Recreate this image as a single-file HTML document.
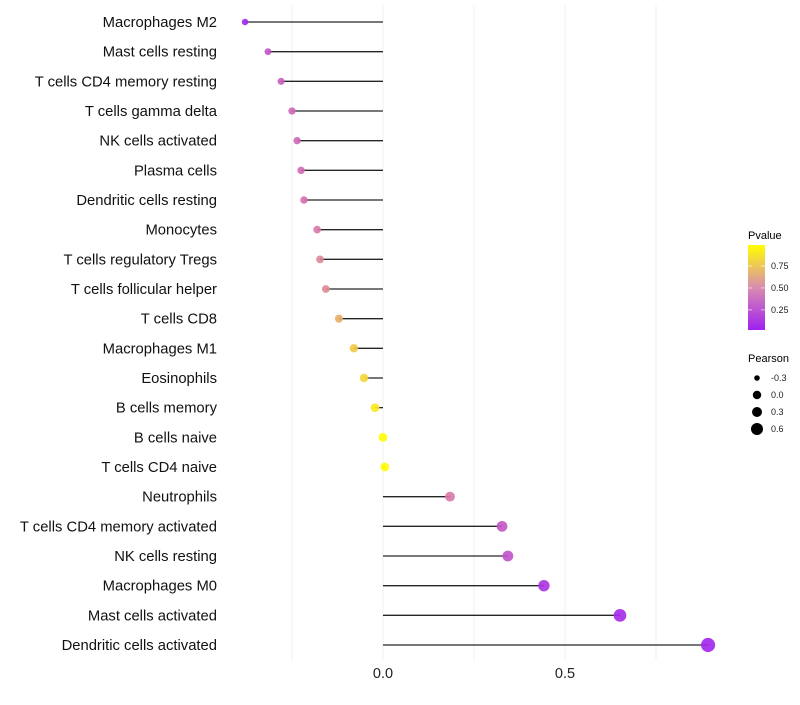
<!DOCTYPE html>
<html><head><meta charset="utf-8"><style>
body{margin:0;background:#fff;font-family:"Liberation Sans",sans-serif;}
</style></head><body>
<svg id="chart" width="800" height="700" xmlns="http://www.w3.org/2000/svg" font-family="Liberation Sans, sans-serif">
<defs><linearGradient id="pg" x1="0" y1="1" x2="0" y2="0">
<stop offset="0" stop-color="#A020F0"/><stop offset="0.5" stop-color="#D98CB0"/><stop offset="1" stop-color="#FFFF00"/></linearGradient></defs>
<g id="grid"></g>
<g id="marks"></g>
<g id="labels"></g>
<g id="xticks"></g>
<g>
<text x="748" y="239" font-size="11">Pvalue</text>
<rect x="748" y="245" width="17" height="85" fill="url(#pg)"/>
<g id="cbticks"></g>
</g>
<g id="sizeleg">
<text x="748" y="362" font-size="11">Pearson</text>
</g>
</svg>
<script>
const categories=["Macrophages M2","Mast cells resting","T cells CD4 memory resting","T cells gamma delta","NK cells activated","Plasma cells","Dendritic cells resting","Monocytes","T cells regulatory  Tregs ","T cells follicular helper","T cells CD8","Macrophages M1","Eosinophils","B cells memory","B cells naive","T cells CD4 naive","Neutrophils","T cells CD4 memory activated","NK cells resting","Macrophages M0","Mast cells activated","Dendritic cells activated"];
const pearson=[-0.379,-0.316,-0.280,-0.250,-0.236,-0.225,-0.217,-0.181,-0.173,-0.157,-0.121,-0.080,-0.052,-0.022,0.0,0.005,0.184,0.327,0.343,0.442,0.651,0.893];
const pvalue=[0.03,0.3,0.35,0.4,0.4,0.42,0.45,0.5,0.55,0.57,0.7,0.8,0.85,0.92,0.99,0.99,0.5,0.3,0.28,0.1,0.05,0.02];
const xTicks=[0.0,0.5];
const gridVals=[-0.25,0,0.25,0.5,0.75];
const cbTicks=[0.25,0.5,0.75];
const legVals=[-0.3,0.0,0.3,0.6];
const NS="http://www.w3.org/2000/svg";
const X=v=>383+v*364;
const Y=i=>22+i*(623/21);
const R=v=>Math.max(2,4.4+3*v);
const cbY=p=>330-(p-0.02)/(0.99-0.02)*85;
function col(p){const a=[160,32,240],m=[217,120,170],b=[255,255,0];let t,c1,c2;if(p<0.5){t=p/0.5;c1=a;c2=m}else{t=(p-0.5)/0.5;c1=m;c2=b}return `rgb(${c1.map((c,k)=>Math.round(c+(c2[k]-c)*t)).join(',')})`;}
function mk(tag,attrs,parent){const e=document.createElementNS(NS,tag);for(const k in attrs)e.setAttribute(k,attrs[k]);parent.appendChild(e);return e;}
const grid=document.getElementById('grid'),marks=document.getElementById('marks'),labels=document.getElementById('labels'),xt=document.getElementById('xticks');
gridVals.forEach(g=>{const l=mk('line',{x1:X(g),x2:X(g),y1:5,y2:660,stroke:'#f2f2f2','stroke-width':1},grid);

});
categories.forEach((c,i)=>{
const y=Y(i);
const ln=mk('line',{x1:X(0),x2:X(pearson[i]),y1:y,y2:y,stroke:'#000','stroke-opacity':0.85,'stroke-width':1.3},marks);


const pt=mk('circle',{cx:X(pearson[i]),cy:y,r:R(pearson[i]),fill:col(pvalue[i]),'fill-opacity':0.9},marks);


const t=mk('text',{x:217,y:y+5,'text-anchor':'end','font-size':14.8,fill:'#111'},labels);
t.textContent=c;


});
xTicks.forEach(v=>{const t=mk('text',{x:X(v),y:678,'text-anchor':'middle','font-size':14.5,fill:'#222'},xt);t.textContent=v.toFixed(1);

});
const cb=document.getElementById('cbticks');
cbTicks.forEach(p=>{const y=cbY(p);mk('line',{x1:748,x2:752,y1:y,y2:y,stroke:'#fff','stroke-opacity':0.6},cb);mk('line',{x1:761,x2:765,y1:y,y2:y,stroke:'#fff','stroke-opacity':0.6},cb);
const t=mk('text',{x:771,y:y+3,'font-size':9,fill:'#222'},cb);t.textContent=p.toFixed(2);

});
const sl=document.getElementById('sizeleg');
legVals.forEach((v,i)=>{const y=378+i*17;const c=mk('circle',{cx:757,cy:y,r:[2.8,4.2,5,6][i],fill:'#000'},sl);


const t=mk('text',{x:771,y:y+3,'font-size':9,fill:'#222'},sl);t.textContent=v.toFixed(1);

});
</script>
</body></html>
